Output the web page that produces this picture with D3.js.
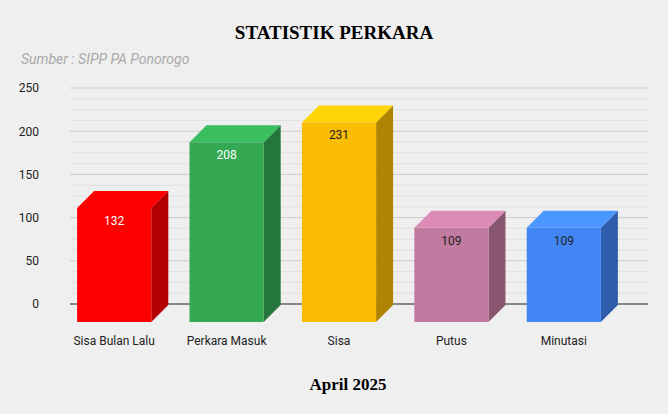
<!DOCTYPE html>
<html>
<head>
<script src="https://d3js.org/d3.v7.min.js"></script>
<style>body{margin:0;background:#efefef}</style>
</head>
<body>
<svg id="chart" width="668" height="414"></svg>
<script>
const categories = ["Sisa Bulan Lalu", "Perkara Masuk", "Sisa", "Putus", "Minutasi"];
const values = [132, 208, 231, 109, 109];
const colors = ["#ff0000", "#34a853", "#fbbc04", "#c27ba0", "#4285f4"];
const labelColors = ["#fff", "#fff", "#222", "#222", "#222"];
const yTicks = [0, 50, 100, 150, 200, 250];

const svg = d3.select("#chart");
svg.append("rect").attr("width", 668).attr("height", 414).attr("fill", "#efefef");

const y = d3.scaleLinear().domain([0, 250]).range([304, 88]);
const x = d3.scaleBand().domain(categories).range([58, 620]).paddingInner(0.34).paddingOuter(0.17);
const depth = 17, drop = 18;

// minor grid
d3.range(0, 251, 12.5).forEach(v => {
    svg.append("line").attr("x1", 70).attr("x2", 648)
        .attr("y1", y(v)).attr("y2", y(v))
        .attr("stroke", yTicks.includes(v) ? "#cccccc" : "#e0e0e0");
});
svg.append("line").attr("x1", 70).attr("x2", 648).attr("y1", y(0)).attr("y2", y(0)).attr("stroke", "#333");

const yAxis = d3.axisLeft(y).tickValues(yTicks).tickSize(0);
svg.append("g").attr("transform", "translate(42,0)").call(yAxis)
    .call(g => g.select(".domain").remove())
    .selectAll("text").attr("font-family", "Roboto, Arial").attr("font-size", 12).attr("fill", "#222");

categories.forEach((c, i) => {
    const x0 = x(c), w = x.bandwidth();
    const bottom = y(0) + drop;
    const top = bottom - (y(0) - y(values[i]));
    const col = d3.color(colors[i]);
    svg.append("polygon")
        .attr("points", [[x0 + w, top], [x0 + w + depth, top - depth], [x0 + w + depth, bottom - depth], [x0 + w, bottom]].join(" "))
        .attr("fill", col.darker(1));
    svg.append("polygon")
        .attr("points", [[x0, top], [x0 + depth, top - depth], [x0 + w + depth, top - depth], [x0 + w, top]].join(" "))
        .attr("fill", col.brighter(0.35));
    svg.append("rect").attr("x", x0).attr("y", top).attr("width", w).attr("height", bottom - top).attr("fill", colors[i]);
    svg.append("text").attr("x", x0 + w / 2).attr("y", top + 17).attr("text-anchor", "middle")
        .attr("font-family", "Roboto, Arial").attr("font-size", 12).attr("fill", labelColors[i]).text(values[i]);
    svg.append("text").attr("x", x0 + w / 2).attr("y", 345).attr("text-anchor", "middle")
        .attr("font-family", "Roboto, Arial").attr("font-size", 12).attr("fill", "#222").text(c);
});

svg.append("text").attr("x", 334).attr("y", 39).attr("text-anchor", "middle")
    .attr("font-family", "Liberation Serif, serif").attr("font-weight", "bold").attr("font-size", 19).text("STATISTIK PERKARA");
svg.append("text").attr("x", 21).attr("y", 64)
    .attr("font-family", "Roboto, Arial").attr("font-style", "italic").attr("font-size", 14).attr("fill", "#aaa").text("Sumber : SIPP PA Ponorogo");
svg.append("text").attr("x", 348).attr("y", 390).attr("text-anchor", "middle")
    .attr("font-family", "Liberation Serif, serif").attr("font-weight", "bold").attr("font-size", 17).text("April 2025");
</script>
</body>
</html>
